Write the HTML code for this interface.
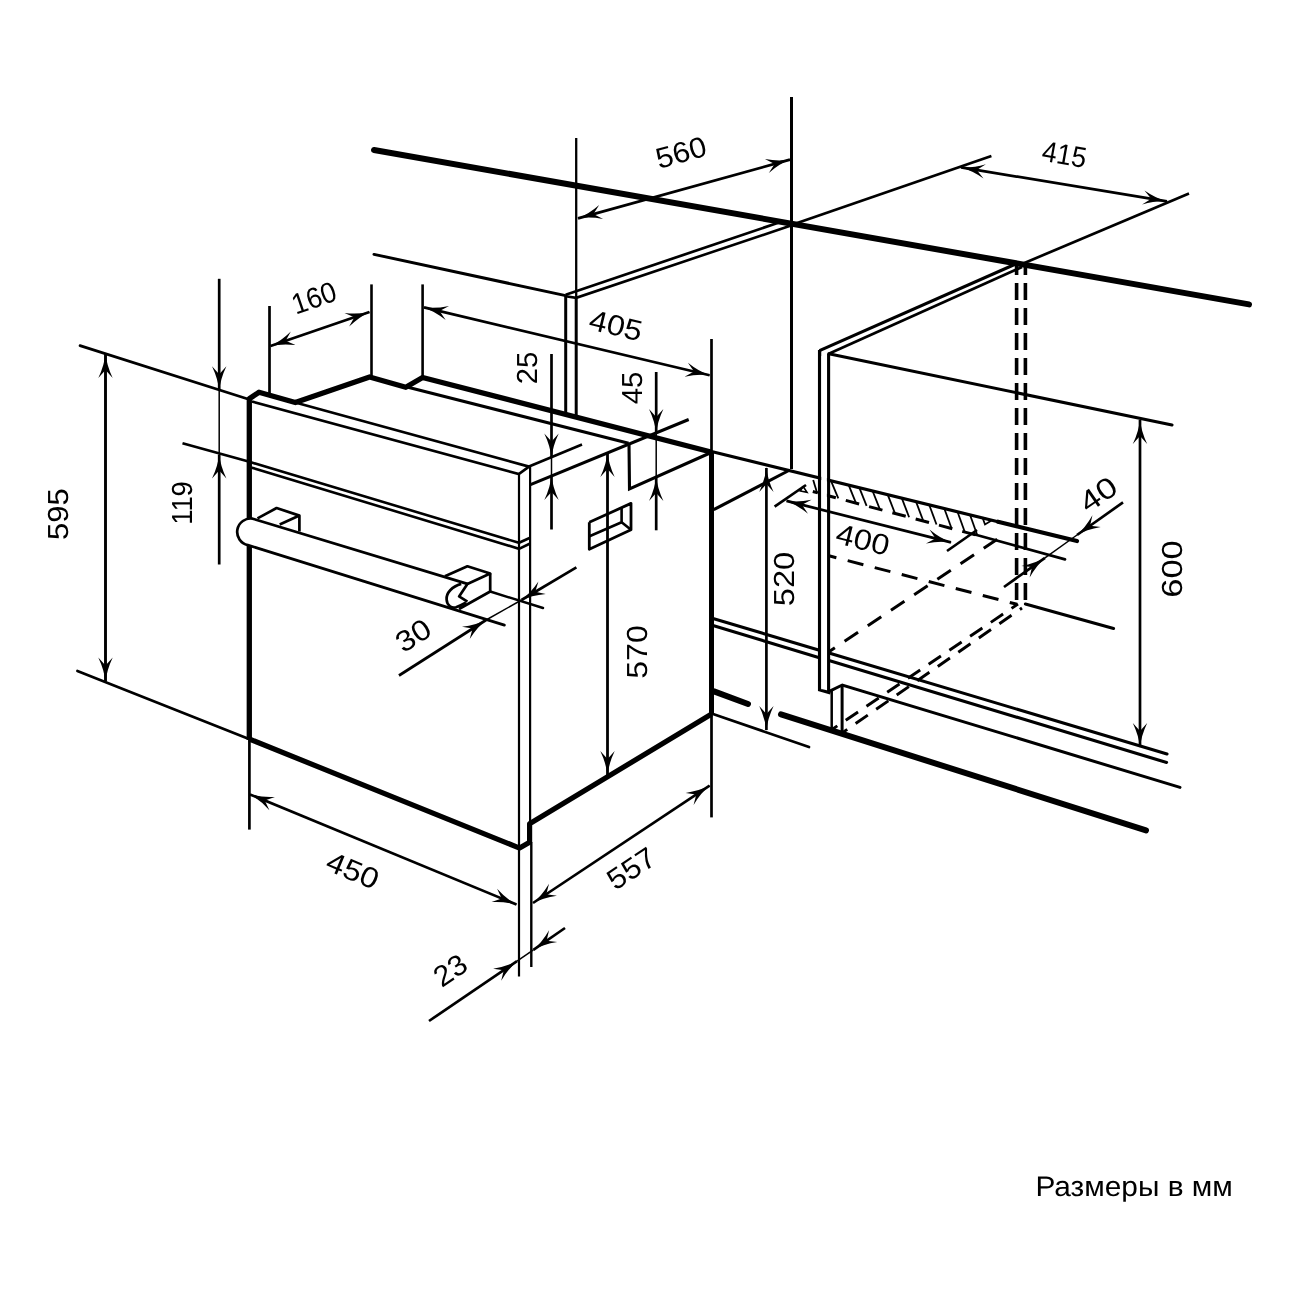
<!DOCTYPE html>
<html lang="ru"><head><meta charset="utf-8"><title>Размеры в мм</title>
<style>
html,body{margin:0;padding:0;background:#fff}
body{width:1300px;height:1300px;overflow:hidden}
svg{display:block;will-change:transform}
svg path{fill:none;stroke:#000}
svg path.ah{fill:#000;stroke:none}
svg text{font-family:"Liberation Sans",sans-serif;fill:#000;stroke:none;text-rendering:geometricPrecision}
</style></head><body>
<svg width="1300" height="1300" viewBox="0 0 1300 1300">
<path d="M374.0,150.0 L1249.0,304.4" stroke-width="6.0" stroke-linecap="round"/>
<path d="M374.0,254.4 L565.7,295.6" stroke-width="3.0" stroke-linecap="round"/>
<path d="M565.7,294.8 L779.0,222.5" stroke-width="2.7"/>
<path d="M565.7,296.3 L576.2,297.8 L791.0,225.5" stroke-width="2.6"/>
<path d="M576.2,138.0 L576.2,297.0" stroke-width="2.3"/>
<path d="M576.2,297.0 L576.2,418.0" stroke-width="3.0"/>
<path d="M565.7,295.0 L565.7,416.0" stroke-width="3.0"/>
<path d="M791.5,97.0 L791.5,469.0" stroke-width="3.0"/>
<path d="M791.4,225.0 L991.4,156.0" stroke-width="2.7"/>
<path d="M578.0,218.4 L790.0,159.6" stroke-width="2.7"/>
<path class="ah" transform="translate(578.0,218.4) rotate(164.5) scale(1.0)" d="M1,0 Q-11,1.0 -24,7.2 L-16,0 L-24,-7.2 Q-11,-1.0 1,0Z"/>
<path class="ah" transform="translate(790.0,159.6) rotate(-15.5) scale(1.0)" d="M1,0 Q-11,1.0 -24,7.2 L-16,0 L-24,-7.2 Q-11,-1.0 1,0Z"/>
<path d="M961.0,167.4 L1167.0,201.4" stroke-width="2.7"/>
<path class="ah" transform="translate(961.0,167.4) rotate(-170.6) scale(1.0)" d="M1,0 Q-11,1.0 -24,7.2 L-16,0 L-24,-7.2 Q-11,-1.0 1,0Z"/>
<path class="ah" transform="translate(1167.0,201.4) rotate(9.4) scale(1.0)" d="M1,0 Q-11,1.0 -24,7.2 L-16,0 L-24,-7.2 Q-11,-1.0 1,0Z"/>
<path d="M1022.0,264.0 L1189.0,193.6" stroke-width="2.7"/>
<path d="M819.5,350.6 L1018.0,263.0" stroke-width="3.1"/>
<path d="M828.8,353.7 L1022.0,267.0" stroke-width="2.7"/>
<path d="M1016.6,266.0 L1016.6,604.0" stroke-width="3.6" stroke-dasharray="17 8" stroke-dashoffset="8"/>
<path d="M1025.4,266.0 L1025.4,604.0" stroke-width="3.6" stroke-dasharray="17 8" stroke-dashoffset="8"/>
<path d="M828.8,353.7 L1172.0,425.0" stroke-width="3.1" stroke-linecap="round"/>
<path d="M819.6,350.0 L819.6,689.8 L830.5,693.0" stroke-width="3.3"/>
<path d="M828.6,353.7 L828.6,691.5" stroke-width="3.1"/>
<path d="M249.4,829.6 L249.4,739.0" stroke-width="2.7"/>
<path d="M249.3,740.0 L249.3,398.8 L259.0,392.2 L295.3,402.5 L369.6,377.0 L405.8,387.3 L422.6,377.5 L711.0,452.0" stroke-width="5.3" stroke-linejoin="round"/>
<path d="M295.3,402.5 L529.0,466.6" stroke-width="2.7"/>
<path d="M252.0,401.5 L518.8,474.0 L529.0,466.6" stroke-width="2.7"/>
<path d="M519.0,474.0 L519.0,976.6" stroke-width="2.2"/>
<path d="M530.1,466.6 L530.1,825.0" stroke-width="2.2"/>
<path d="M531.3,842.0 L531.3,967.0" stroke-width="2.4"/>
<path d="M182.5,443.2 L249.4,461.8" stroke-width="2.7"/>
<path d="M249.4,461.8 L519.0,542.8 L530.1,537.7" stroke-width="2.6"/>
<path d="M251.0,467.4 L519.0,548.8 L530.1,543.5" stroke-width="2.6"/>
<path d="M529.0,466.6 L582.0,444.6" stroke-width="2.7"/>
<path d="M530.5,484.6 L688.7,419.5" stroke-width="3.1"/>
<path d="M629.0,443.6 L629.5,488.8 L710.0,453.0" stroke-width="3.1"/>
<path d="M408.0,387.3 L628.6,443.2" stroke-width="3.1"/>
<path d="M711.5,339.0 L711.5,452.0" stroke-width="2.7"/>
<path d="M711.5,452.0 L711.5,714.0" stroke-width="5.0"/>
<path d="M711.5,714.0 L711.5,817.4" stroke-width="2.7"/>
<path d="M249.3,739.0 L519.6,848.1 L529.6,842.3 L529.6,823.8 L711.6,714.0" stroke-width="5.2" stroke-linejoin="round"/>
<path d="M589.3,522.3 L631.0,503.4 L631.0,529.8 L589.3,549.2 L589.3,522.3" stroke-width="2.8" stroke-linejoin="round"/>
<path d="M621.6,507.8 L621.6,522.3 L589.5,536.3" stroke-width="2.6" stroke-linejoin="round"/>
<path d="M621.6,522.3 L631.0,529.8" stroke-width="2.6"/>
<path d="M252.7,518.7 L467.4,583.9 L467.4,602 L459,609.2 L247.9,545.1 A13.42,13.42 0 0 1 252.7,518.7Z" style="fill:#fff;stroke:none"/>
<path d="M467.4,583.9 L252.7,518.7 A13.42,13.42 0 0 0 247.9,545.1 L504.4,625.1" stroke-width="2.7" stroke-linecap="round"/>
<path d="M257.5,518.4 L276.6,508.0 L299.4,515.6 L299.4,531.6" stroke-width="2.7" stroke-linejoin="round"/>
<path d="M279.7,524.6 L299.4,515.6" stroke-width="2.7"/>
<path d="M461.2,583.9 C452,586.5 446,593 446.6,599.5 C447,606 452,608.5 456,607.3 C460,606 463.5,604 466,602.6" stroke-width="2.7"/>
<path d="M444.9,576.3 L467.4,566.3 L490.2,573.5 L467.4,583.9 L459.1,596.4 L467.4,601.6" stroke-width="2.7" stroke-linejoin="round"/>
<path d="M490.2,573.5 L490.2,591.5 L459.0,609.0" stroke-width="2.7" stroke-linejoin="round"/>
<path d="M490.2,591.5 L543.0,608.0" stroke-width="2.5" stroke-linecap="round"/>
<path d="M711.5,451.5 L1000.0,522.2" stroke-width="3.2"/>
<path d="M998.0,521.7 L1077.0,541.0" stroke-width="4.2" stroke-linecap="round"/>
<path d="M822.5,494.2 L976.0,535.0" stroke-width="3.0" stroke-dasharray="13.8 10.3"/>
<path d="M812.8,491.5 L817.8,492.9" stroke-width="3.0"/>
<path d="M974.0,534.3 L1065.0,559.4" stroke-width="2.7" stroke-linecap="round"/>
<path d="M831.0,480.8 L838.3,498.4" stroke-width="1.8"/>
<path d="M848.7,485.1 L856.0,503.1" stroke-width="1.8"/>
<path d="M859.3,487.7 L866.6,505.9" stroke-width="1.8"/>
<path d="M872.6,491.0 L879.9,509.4" stroke-width="1.8"/>
<path d="M887.7,494.7 L895.0,513.4" stroke-width="1.8"/>
<path d="M901.8,498.1 L909.1,517.2" stroke-width="1.8"/>
<path d="M916.0,501.6 L923.3,521.0" stroke-width="1.8"/>
<path d="M929.2,504.8 L936.5,524.5" stroke-width="1.8"/>
<path d="M944.3,508.5 L951.6,528.5" stroke-width="1.8"/>
<path d="M957.5,511.7 L964.8,532.0" stroke-width="1.8"/>
<path d="M970.0,514.8 L977.3,535.3" stroke-width="1.8"/>
<path d="M813.2,480.0 L817.2,493.2" stroke-width="1.8"/>
<path d="M803.0,486.2 L807.0,492.3 L800.3,491.0 L803.0,486.2" stroke-width="1.6"/>
<path d="M982.5,517.5 L991.5,520.5 L985.0,524.5 L982.5,517.5" stroke-width="1.8"/>
<path d="M713.7,509.7 L789.8,470.0" stroke-width="3.1"/>
<path d="M828.9,555.8 L1017.0,604.3" stroke-width="3.0" stroke-dasharray="16.2 11.7" stroke-dashoffset="8.5"/>
<path d="M829.7,651.2 L1002.0,536.0" stroke-width="3.0" stroke-dasharray="16.2 11.7" stroke-dashoffset="10"/>
<path d="M832.0,729.5 L1018.0,604.0" stroke-width="2.9" stroke-dasharray="14.8 10.2" stroke-dashoffset="8.4"/>
<path d="M842.0,733.0 L1022.0,608.0" stroke-width="2.9" stroke-dasharray="14.8 10.2" stroke-dashoffset="8.4"/>
<path d="M1025.4,604.0 L1113.6,628.4" stroke-width="3.1" stroke-linecap="round"/>
<path d="M713.0,618.4 L818.5,649.9" stroke-width="3.1"/>
<path d="M829.8,653.3 L1167.0,754.0" stroke-width="3.1" stroke-linecap="round"/>
<path d="M713.0,625.6 L818.5,657.4" stroke-width="3.1"/>
<path d="M829.8,660.8 L1166.6,762.4" stroke-width="3.1" stroke-linecap="round"/>
<path d="M821.3,356 V689.3 H826.9 V357Z" style="fill:#fff;stroke:none"/>
<path d="M831.7,690.5 L831.7,729.5" stroke-width="2.5"/>
<path d="M842.1,685.2 L842.1,731.5" stroke-width="3.0"/>
<path d="M830.8,690.6 L842.3,685.0 L1180.0,787.4" stroke-width="3.0" stroke-linecap="round"/>
<path d="M781.0,714.4 L1146.0,830.4" stroke-width="6.0" stroke-linecap="round"/>
<path d="M714.0,691.4 L748.0,704.0" stroke-width="6.0" stroke-linecap="round"/>
<path d="M713.0,714.0 L809.0,747.0" stroke-width="2.7" stroke-linecap="round"/>
<path d="M80.0,345.6 L249.4,399.5" stroke-width="2.7" stroke-linecap="round"/>
<path d="M77.4,671.0 L249.0,739.0" stroke-width="2.7" stroke-linecap="round"/>
<path d="M105.5,353.9 L105.5,681.5" stroke-width="2.9"/>
<path class="ah" transform="translate(105.5,353.9) rotate(-90.0) scale(1.0)" d="M1,0 Q-11,1.0 -24,7.2 L-16,0 L-24,-7.2 Q-11,-1.0 1,0Z"/>
<path class="ah" transform="translate(105.5,681.5) rotate(90.0) scale(1.0)" d="M1,0 Q-11,1.0 -24,7.2 L-16,0 L-24,-7.2 Q-11,-1.0 1,0Z"/>
<path d="M219.2,278.8 L219.2,390.0" stroke-width="2.7"/>
<path d="M219.2,390.0 L219.2,455.0" stroke-width="1.5"/>
<path d="M219.2,455.0 L219.2,564.5" stroke-width="2.7"/>
<path class="ah" transform="translate(219.2,390.3) rotate(90.0) scale(1.0)" d="M1,0 Q-11,1.0 -24,7.2 L-16,0 L-24,-7.2 Q-11,-1.0 1,0Z"/>
<path class="ah" transform="translate(219.2,454.5) rotate(-90.0) scale(1.0)" d="M1,0 Q-11,1.0 -24,7.2 L-16,0 L-24,-7.2 Q-11,-1.0 1,0Z"/>
<path d="M269.5,306.0 L269.5,394.0" stroke-width="2.7"/>
<path d="M371.5,284.4 L371.5,376.0" stroke-width="2.6"/>
<path d="M270.5,346.0 L369.5,312.0" stroke-width="2.7"/>
<path class="ah" transform="translate(270.5,346.0) rotate(161.0) scale(1.0)" d="M1,0 Q-11,1.0 -24,7.2 L-16,0 L-24,-7.2 Q-11,-1.0 1,0Z"/>
<path class="ah" transform="translate(369.5,312.0) rotate(-19.0) scale(1.0)" d="M1,0 Q-11,1.0 -24,7.2 L-16,0 L-24,-7.2 Q-11,-1.0 1,0Z"/>
<path d="M422.6,284.4 L422.6,377.0" stroke-width="2.6"/>
<path d="M424.0,307.4 L709.6,375.2" stroke-width="2.7"/>
<path class="ah" transform="translate(424.0,307.4) rotate(-166.6) scale(1.0)" d="M1,0 Q-11,1.0 -24,7.2 L-16,0 L-24,-7.2 Q-11,-1.0 1,0Z"/>
<path class="ah" transform="translate(709.6,375.2) rotate(13.4) scale(1.0)" d="M1,0 Q-11,1.0 -24,7.2 L-16,0 L-24,-7.2 Q-11,-1.0 1,0Z"/>
<path d="M551.5,354.0 L551.5,457.0" stroke-width="2.7"/>
<path d="M551.5,457.0 L551.5,476.0" stroke-width="1.5"/>
<path d="M551.5,476.0 L551.5,529.5" stroke-width="2.7"/>
<path class="ah" transform="translate(551.5,457.4) rotate(90.0) scale(1.0)" d="M1,0 Q-11,1.0 -24,7.2 L-16,0 L-24,-7.2 Q-11,-1.0 1,0Z"/>
<path class="ah" transform="translate(551.5,476.0) rotate(-90.0) scale(1.0)" d="M1,0 Q-11,1.0 -24,7.2 L-16,0 L-24,-7.2 Q-11,-1.0 1,0Z"/>
<path d="M656.2,372.0 L656.2,432.9" stroke-width="2.7"/>
<path d="M656.2,432.9 L656.2,476.9" stroke-width="1.5"/>
<path d="M656.2,476.9 L656.2,530.3" stroke-width="2.7"/>
<path class="ah" transform="translate(656.2,432.9) rotate(90.0) scale(1.0)" d="M1,0 Q-11,1.0 -24,7.2 L-16,0 L-24,-7.2 Q-11,-1.0 1,0Z"/>
<path class="ah" transform="translate(656.2,476.9) rotate(-90.0) scale(1.0)" d="M1,0 Q-11,1.0 -24,7.2 L-16,0 L-24,-7.2 Q-11,-1.0 1,0Z"/>
<path d="M607.5,453.0 L607.5,775.0" stroke-width="2.8"/>
<path class="ah" transform="translate(607.5,453.0) rotate(-90.0) scale(1.0)" d="M1,0 Q-11,1.0 -24,7.2 L-16,0 L-24,-7.2 Q-11,-1.0 1,0Z"/>
<path class="ah" transform="translate(607.5,775.0) rotate(90.0) scale(1.0)" d="M1,0 Q-11,1.0 -24,7.2 L-16,0 L-24,-7.2 Q-11,-1.0 1,0Z"/>
<path d="M766.4,468.0 L766.4,730.0" stroke-width="2.7"/>
<path class="ah" transform="translate(766.4,468.0) rotate(-90.0) scale(1.0)" d="M1,0 Q-11,1.0 -24,7.2 L-16,0 L-24,-7.2 Q-11,-1.0 1,0Z"/>
<path class="ah" transform="translate(766.4,730.0) rotate(90.0) scale(1.0)" d="M1,0 Q-11,1.0 -24,7.2 L-16,0 L-24,-7.2 Q-11,-1.0 1,0Z"/>
<path d="M1140.0,420.0 L1140.0,747.0" stroke-width="2.7"/>
<path class="ah" transform="translate(1140.0,420.0) rotate(-90.0) scale(1.0)" d="M1,0 Q-11,1.0 -24,7.2 L-16,0 L-24,-7.2 Q-11,-1.0 1,0Z"/>
<path class="ah" transform="translate(1140.0,747.0) rotate(90.0) scale(1.0)" d="M1,0 Q-11,1.0 -24,7.2 L-16,0 L-24,-7.2 Q-11,-1.0 1,0Z"/>
<path d="M250.0,794.4 L516.5,904.6" stroke-width="2.7"/>
<path class="ah" transform="translate(250.0,794.4) rotate(-157.5) scale(1.0)" d="M1,0 Q-11,1.0 -24,7.2 L-16,0 L-24,-7.2 Q-11,-1.0 1,0Z"/>
<path class="ah" transform="translate(516.5,904.6) rotate(22.5) scale(1.0)" d="M1,0 Q-11,1.0 -24,7.2 L-16,0 L-24,-7.2 Q-11,-1.0 1,0Z"/>
<path d="M533.0,903.0 L709.6,785.6" stroke-width="2.7"/>
<path class="ah" transform="translate(533.0,903.0) rotate(146.4) scale(1.0)" d="M1,0 Q-11,1.0 -24,7.2 L-16,0 L-24,-7.2 Q-11,-1.0 1,0Z"/>
<path class="ah" transform="translate(709.6,785.6) rotate(-33.6) scale(1.0)" d="M1,0 Q-11,1.0 -24,7.2 L-16,0 L-24,-7.2 Q-11,-1.0 1,0Z"/>
<path d="M429.0,1021.0 L517.0,961.2" stroke-width="2.7"/>
<path d="M517.0,961.2 L533.4,949.8" stroke-width="1.5"/>
<path d="M533.4,949.8 L565.0,928.0" stroke-width="2.7"/>
<path class="ah" transform="translate(517.0,961.2) rotate(-34.2) scale(1.0)" d="M1,0 Q-11,1.0 -24,7.2 L-16,0 L-24,-7.2 Q-11,-1.0 1,0Z"/>
<path class="ah" transform="translate(533.4,949.8) rotate(145.4) scale(1.0)" d="M1,0 Q-11,1.0 -24,7.2 L-16,0 L-24,-7.2 Q-11,-1.0 1,0Z"/>
<path d="M399.0,675.5 L486.1,620.0" stroke-width="2.7"/>
<path d="M486.1,620.0 L521.5,600.0" stroke-width="1.5"/>
<path d="M521.5,600.0 L576.4,567.3" stroke-width="2.7"/>
<path class="ah" transform="translate(486.1,620.0) rotate(-32.5) scale(1.0)" d="M1,0 Q-11,1.0 -24,7.2 L-16,0 L-24,-7.2 Q-11,-1.0 1,0Z"/>
<path class="ah" transform="translate(521.5,600.0) rotate(149.2) scale(1.0)" d="M1,0 Q-11,1.0 -24,7.2 L-16,0 L-24,-7.2 Q-11,-1.0 1,0Z"/>
<path d="M1004.0,587.0 L1045.0,557.8" stroke-width="2.7"/>
<path d="M1045.0,557.8 L1077.0,535.0" stroke-width="1.5"/>
<path d="M1077.0,535.0 L1123.0,502.4" stroke-width="2.7"/>
<path class="ah" transform="translate(1045.0,557.8) rotate(-35.5) scale(1.0)" d="M1,0 Q-11,1.0 -24,7.2 L-16,0 L-24,-7.2 Q-11,-1.0 1,0Z"/>
<path class="ah" transform="translate(1077.0,535.0) rotate(144.7) scale(1.0)" d="M1,0 Q-11,1.0 -24,7.2 L-16,0 L-24,-7.2 Q-11,-1.0 1,0Z"/>
<path d="M786.5,500.9 L951.0,542.4" stroke-width="2.7"/>
<path class="ah" transform="translate(786.5,500.9) rotate(-165.8) scale(1.0)" d="M1,0 Q-11,1.0 -24,7.2 L-16,0 L-24,-7.2 Q-11,-1.0 1,0Z"/>
<path class="ah" transform="translate(951.0,542.4) rotate(14.2) scale(1.0)" d="M1,0 Q-11,1.0 -24,7.2 L-16,0 L-24,-7.2 Q-11,-1.0 1,0Z"/>
<path d="M774.6,506.6 L806.0,485.0" stroke-width="2.7"/>
<path d="M947.0,551.0 L977.0,530.0" stroke-width="2.7"/>
<text transform="translate(681.0,152.0) rotate(-15.5)" font-size="29" text-anchor="middle" y="10.4" textLength="51.3" lengthAdjust="spacingAndGlyphs">560</text>
<text transform="translate(1064.4,154.0) rotate(10)" font-size="29" text-anchor="middle" y="10.4" textLength="44.6" lengthAdjust="spacingAndGlyphs">415</text>
<text transform="translate(313.8,297.5) rotate(-19)" font-size="29" text-anchor="middle" y="10.4" textLength="45.6" lengthAdjust="spacingAndGlyphs">160</text>
<text transform="translate(616.0,325.0) rotate(13.4)" font-size="29" text-anchor="middle" y="10.4" textLength="53.6" lengthAdjust="spacingAndGlyphs">405</text>
<text transform="translate(526.4,368.0) rotate(-90)" font-size="29" text-anchor="middle" y="10.4" textLength="32.6" lengthAdjust="spacingAndGlyphs">25</text>
<text transform="translate(632.0,388.0) rotate(-90)" font-size="29" text-anchor="middle" y="10.4" textLength="32.6" lengthAdjust="spacingAndGlyphs">45</text>
<text transform="translate(181.8,503.0) rotate(-90)" font-size="29" text-anchor="middle" y="10.4" textLength="43.6" lengthAdjust="spacingAndGlyphs">119</text>
<text transform="translate(57.5,514.2) rotate(-90)" font-size="29" text-anchor="middle" y="10.4" textLength="51.6" lengthAdjust="spacingAndGlyphs">595</text>
<text transform="translate(413.0,635.0) rotate(-32)" font-size="29" text-anchor="middle" y="10.4" textLength="36.1" lengthAdjust="spacingAndGlyphs">30</text>
<text transform="translate(637.0,652.0) rotate(-90)" font-size="29" text-anchor="middle" y="10.4" textLength="53.6" lengthAdjust="spacingAndGlyphs">570</text>
<text transform="translate(783.5,579.0) rotate(-90)" font-size="29" text-anchor="middle" y="10.4" textLength="54.6" lengthAdjust="spacingAndGlyphs">520</text>
<text transform="translate(1172.0,569.0) rotate(-90)" font-size="29" text-anchor="middle" y="10.4" textLength="57.6" lengthAdjust="spacingAndGlyphs">600</text>
<text transform="translate(863.0,539.3) rotate(14)" font-size="29" text-anchor="middle" y="10.4" textLength="54.1" lengthAdjust="spacingAndGlyphs">400</text>
<text transform="translate(1098.0,494.0) rotate(-35)" font-size="29" text-anchor="middle" y="10.4" textLength="39.0" lengthAdjust="spacingAndGlyphs">40</text>
<text transform="translate(353.0,870.0) rotate(22.5)" font-size="29" text-anchor="middle" y="10.4" textLength="54.1" lengthAdjust="spacingAndGlyphs">450</text>
<text transform="translate(631.0,868.0) rotate(-33.6)" font-size="29" text-anchor="middle" y="10.4" textLength="51.4" lengthAdjust="spacingAndGlyphs">557</text>
<text transform="translate(450.0,970.0) rotate(-34)" font-size="29" text-anchor="middle" y="10.4" textLength="33.9" lengthAdjust="spacingAndGlyphs">23</text>
<text x="1035.4" y="1196.4" font-size="28.2" textLength="197.5" lengthAdjust="spacingAndGlyphs">Размеры в мм</text>
</svg>
</body></html>
